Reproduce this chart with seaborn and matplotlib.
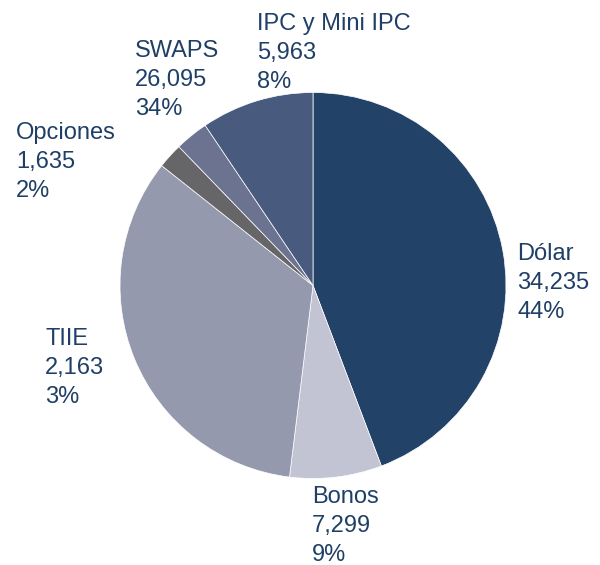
import matplotlib
matplotlib.use('Agg')
import matplotlib.pyplot as plt
import seaborn as sns

# Operaciones por producto
productos = ['Dólar', 'Bonos', 'SWAPS', 'Opciones', 'TIIE', 'IPC y Mini IPC']
contratos = [34235, 7299, 26095, 1635, 2163, 5963]

# slices as they are drawn in the reference, clockwise from the top
orden_pie = ['Dólar', 'IPC y Mini IPC', 'SWAPS', 'Opciones', 'TIIE', 'Bonos']
colores = ['#224268', '#C2C4D3', '#9599AE', '#666669', '#6B7390', '#485B7E']

# where each label sits (pixels from top-left: left edge, first baseline)
label_pos = {
    'Dólar': (517, 260),
    'Bonos': (312, 503),
    'SWAPS': (135, 57),
    'Opciones': (16, 139),
    'TIIE': (45, 345),
    'IPC y Mini IPC': (257, 30),
}

sns.set_theme(style='white')
plt.rcParams['font.family'] = ['Liberation Sans', 'DejaVu Sans']

W, H = 600, 565
fig = plt.figure(figsize=(W / 100, H / 100), dpi=100)
ax = fig.add_axes([0, 0, 1, 1])

valores = dict(zip(productos, contratos))
ax.pie([valores[p] for p in orden_pie], colors=sns.color_palette(colores),
       startangle=90, counterclock=False, center=(313, H - 285.5), radius=193,
       wedgeprops=dict(edgecolor='white', linewidth=0.5))
ax.set_xlim(0, W)
ax.set_ylim(0, H)
ax.set_aspect('equal')
ax.axis('off')

total = sum(contratos)
for nombre, val in zip(productos, contratos):
    x, y = label_pos[nombre]
    lineas = [nombre, f'{val:,}', f'{val / total:.0%}']
    for i, linea in enumerate(lineas):
        ax.text(x, H - (y + 29 * i), linea, ha='left', va='baseline',
                fontsize=17, color='#1F3F66')

plt.savefig('out.png', dpi=100)
